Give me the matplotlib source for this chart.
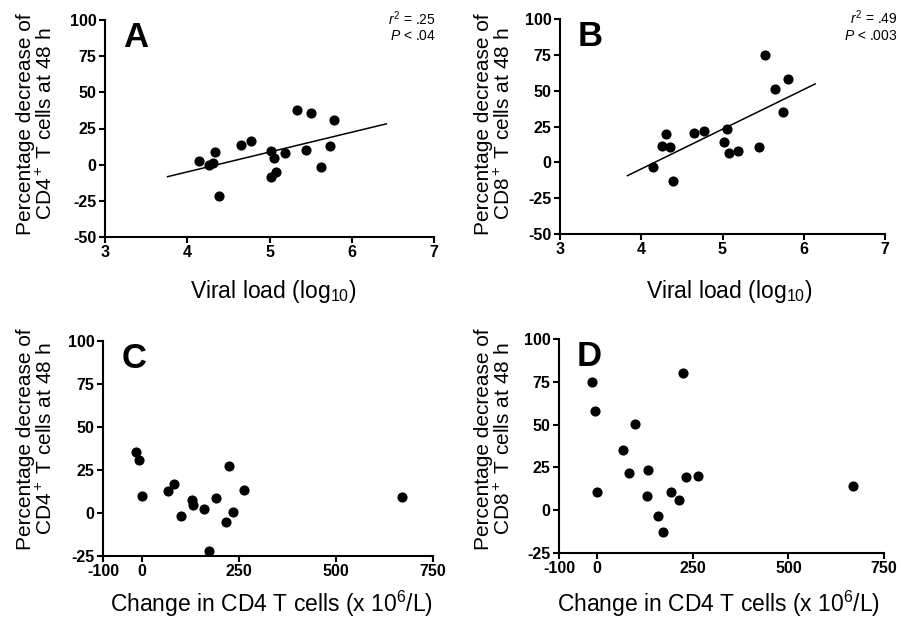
import matplotlib
matplotlib.use("Agg")
import matplotlib.pyplot as plt

plt.rcParams["font.family"] = ["Liberation Sans", "DejaVu Sans"]
plt.rcParams["mathtext.fontset"] = "custom"
plt.rcParams["mathtext.rm"] = "Liberation Sans"
plt.rcParams["mathtext.it"] = "Liberation Sans:italic"
plt.rcParams["mathtext.bf"] = "Liberation Sans:bold"
plt.rcParams["axes.unicode_minus"] = False

# --- data ---
# A: viral load vs CD4+ decrease
vl_a = [4.14, 4.26, 4.31, 4.34, 4.39, 4.65, 4.77, 5.02, 5.06, 5.02,
        5.08, 5.19, 5.34, 5.51, 5.44, 5.63, 5.74, 5.79]
cd4_dec_a = [2.8, -0.5, 1.2, 8.8, -22, 13.7, 16.7, 9.7, 4.9, -8.3,
             -4.9, 7.9, 38, 35.6, 10, -1.6, 13.2, 31]
fit_a_x = [3.76, 6.42]
fit_a_y = [-8.3, 28.2]

# B: viral load vs CD8+ decrease
vl_b = [4.14, 4.26, 4.30, 4.35, 4.39, 4.65, 4.77, 5.06, 5.02, 5.08,
        5.19, 5.45, 5.52, 5.65, 5.75, 5.80]
cd8_dec_b = [-3.5, 11.4, 19.5, 10.7, -12.8, 20.2, 21.9, 23.5, 14.2, 6.3,
             7.9, 10.5, 74.9, 50.9, 35.4, 58.4]
fit_b_x = [3.83, 6.14]
fit_b_y = [-9.3, 54.7]

# C/D: change in CD4 T cells
cd4_change = [-14, -6, 0, 68, 83, 102, 130, 133, 160, 173,
              192, 216, 225, 234, 264, 670]
cd4_dec_c = [35.5, 30.8, 9.7, 12.8, 16.7, -1.7, 7.4, 4.7, 2.5, -22.3,
             8.5, -5.4, 27.3, 0.6, 13.4, 9.5]
cd8_change = [-14, -7, -1, 67, 82, 100, 129, 132, 158, 172,
              192, 215, 224, 233, 264, 669]
cd8_dec_d = [75, 58.2, 10.5, 35.4, 21.8, 50.6, 8.2, 23.4, -3.5, -12.7,
             10.5, 6.0, 80.4, 19.5, 20.1, 14.0]

W, H = 901, 618
fig = plt.figure(figsize=(W / 100, H / 100), dpi=100)


def make_ax(left, right, top, bottom):
    return fig.add_axes([left / W, (H - bottom) / H, (right - left) / W, (bottom - top) / H])


def style(ax, xlim, ylim, xticks, yticks):
    ax.set_xlim(*xlim)
    ax.set_ylim(*ylim)
    ax.set_xticks(xticks)
    ax.set_yticks(yticks)
    for s in ["top", "right"]:
        ax.spines[s].set_visible(False)
    for s in ["left", "bottom"]:
        ax.spines[s].set_linewidth(1.5)
    ax.tick_params(direction="out", length=4.5, width=1.5, pad=1.5, labelsize=11.5)
    for lab in ax.get_xticklabels() + ax.get_yticklabels():
        lab.set_fontweight("bold")
    ax.patch.set_alpha(0)


axA = make_ax(105, 434, 20, 237)
axB = make_ax(560, 885, 19, 234)
axC = make_ax(103, 433, 341, 556)
axD = make_ax(559, 884, 339, 553)

dot = dict(linestyle="none", marker="o", markersize=6.3, color="black", clip_on=False)

axA.plot(vl_a, cd4_dec_a, **dot)
axA.plot(fit_a_x, fit_a_y, color="black", linewidth=1.1)
axB.plot(vl_b, cd8_dec_b, **dot)
axB.plot(fit_b_x, fit_b_y, color="black", linewidth=1.1)
axC.plot(cd4_change, cd4_dec_c, **dot)
axD.plot(cd8_change, cd8_dec_d, **dot)

for ax in (axA, axB):
    style(ax, (3, 7), (-50, 100), [3, 4, 5, 6, 7], [-50, -25, 0, 25, 50, 75, 100])
for ax in (axC, axD):
    style(ax, (-100, 750), (-25, 100), [-100, 0, 250, 500, 750], [-25, 0, 25, 50, 75, 100])

# panel letters
for ax, letter in zip((axA, axB, axC, axD), "ABCD"):
    ax.text(0.055, 0.995, letter, transform=ax.transAxes, fontsize=25,
            fontweight="bold", va="top", ha="left")

# stats
axA.text(1.005, 1.05, "$r^2$ = .25\n$P$ < .04", transform=axA.transAxes,
         fontsize=10, ha="right", va="top", linespacing=1.15)
axB.text(1.04, 1.05, "$r^2$ = .49\n$P$ < .003", transform=axB.transAxes,
         fontsize=10, ha="right", va="top", linespacing=1.15)

# axis labels
ylab4 = "Percentage decrease of\nCD4$^+$ T cells at 48 h"
ylab8 = "Percentage decrease of\nCD8$^+$ T cells at 48 h"
yfs = 15
xfs = 16.5
for x, y, lab in [(36, 124, ylab4), (494, 124, ylab8), (36, 439, ylab4), (494, 439, ylab8)]:
    fig.text(x / W, 1 - y / H, lab, rotation=90, ha="center", va="center",
             multialignment="center", fontsize=yfs, linespacing=1.05)

fig.text(273 / W, 1 - 292 / H, "Viral load (log$_{10}$)", ha="center", va="center", fontsize=xfs)
fig.text(729 / W, 1 - 292 / H, "Viral load (log$_{10}$)", ha="center", va="center", fontsize=xfs)
fig.text(272 / W, 6.5 / H, "Change in CD4 T cells (x 10$^6$/L)", ha="center", va="baseline", fontsize=xfs)
fig.text(719 / W, 6.5 / H, "Change in CD4 T cells (x 10$^6$/L)", ha="center", va="baseline", fontsize=xfs)

fig.savefig("out.png", dpi=100)
